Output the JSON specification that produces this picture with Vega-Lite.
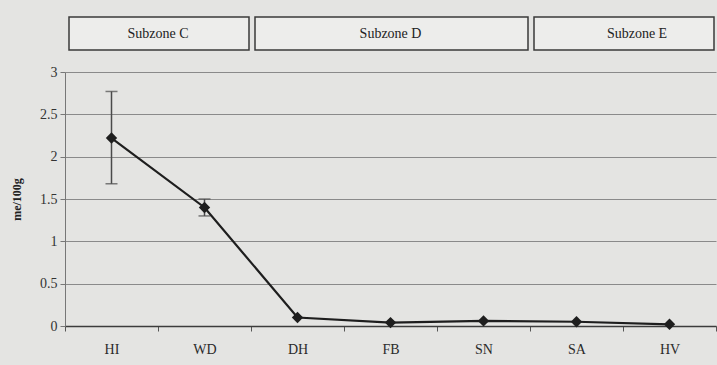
{
  "$schema": "https://vega.github.io/schema/vega-lite/v6.json",
  "background": "#e4e4e2",
  "padding": {"left": 10, "top": 16, "right": 0, "bottom": 14},
  "config": {
    "view": {"stroke": null},
    "font": "Liberation Serif, serif",
    "text": {"font": "Liberation Serif, serif"},
    "axis": {"labelFont": "Liberation Serif, serif", "titleFont": "Liberation Serif, serif"}
  },
  "datasets": {
    "sites": [
      {"site": "HI", "value": 2.22, "lo": 1.68, "hi": 2.77},
      {"site": "WD", "value": 1.40, "lo": 1.30, "hi": 1.50},
      {"site": "DH", "value": 0.10, "lo": null, "hi": null},
      {"site": "FB", "value": 0.04, "lo": null, "hi": null},
      {"site": "SN", "value": 0.06, "lo": null, "hi": null},
      {"site": "SA", "value": 0.05, "lo": null, "hi": null},
      {"site": "HV", "value": 0.02, "lo": null, "hi": null}
    ],
    "zones": [
      {"zone": "Subzone C", "first": "HI", "last": "WD"},
      {"zone": "Subzone D", "first": "DH", "last": "SN"},
      {"zone": "Subzone E", "first": "SA", "last": "HV"}
    ]
  },
  "vconcat": [
    {
      "width": 651,
      "height": 33,
      "data": {"name": "zones"},
      "layer": [
        {
          "mark": {"type": "rect", "fill": "#ededeb", "stroke": "#3a3a3a", "strokeWidth": 1.5, "xOffset": 4, "x2Offset": -2},
          "encoding": {
            "x": {"field": "first", "type": "nominal", "bandPosition": 0,
                  "scale": {"type": "band", "domain": ["HI", "WD", "DH", "FB", "SN", "SA", "HV"], "paddingInner": 0, "paddingOuter": 0},
                  "axis": null},
            "x2": {"field": "last", "bandPosition": 1}
          }
        },
        {
          "transform": [{"filter": "datum.zone === 'Subzone C'"}],
          "mark": {"type": "text", "font": "Liberation Serif, serif", "fontSize": 14, "color": "#222", "baseline": "middle"},
          "encoding": {
            "x": {"field": "last", "type": "nominal", "bandPosition": 0,
                  "scale": {"type": "band", "domain": ["HI", "WD", "DH", "FB", "SN", "SA", "HV"], "paddingInner": 0, "paddingOuter": 0},
                  "axis": null},
            "text": {"field": "zone"}
          }
        },
        {
          "transform": [{"filter": "datum.zone === 'Subzone D'"}],
          "mark": {"type": "text", "font": "Liberation Serif, serif", "fontSize": 14, "color": "#222", "baseline": "middle"},
          "encoding": {
            "x": {"datum": "FB", "type": "nominal", "bandPosition": 0.5,
                  "scale": {"type": "band", "domain": ["HI", "WD", "DH", "FB", "SN", "SA", "HV"], "paddingInner": 0, "paddingOuter": 0},
                  "axis": null},
            "text": {"field": "zone"}
          }
        },
        {
          "transform": [{"filter": "datum.zone === 'Subzone E'"}],
          "mark": {"type": "text", "font": "Liberation Serif, serif", "fontSize": 14, "color": "#222", "baseline": "middle", "dx": 14},
          "encoding": {
            "x": {"field": "last", "type": "nominal", "bandPosition": 0,
                  "scale": {"type": "band", "domain": ["HI", "WD", "DH", "FB", "SN", "SA", "HV"], "paddingInner": 0, "paddingOuter": 0},
                  "axis": null},
            "text": {"field": "zone"}
          }
        }
      ]
    },
    {
      "width": 651,
      "height": 254,
      "data": {"name": "sites"},
      "encoding": {
        "x": {
          "field": "site", "type": "nominal", "bandPosition": 0.5,
          "scale": {"type": "band", "domain": ["HI", "WD", "DH", "FB", "SN", "SA", "HV"], "paddingInner": 0, "paddingOuter": 0},
          "axis": {
            "title": null, "labelAngle": 0, "tickBand": "extent",
            "domainColor": "#3c3c3c", "domainWidth": 1.5,
            "tickColor": "#555", "tickSize": 5,
            "labelFont": "Liberation Serif, serif",
            "labelFontSize": 14, "labelColor": "#2a2a2a", "labelPadding": 11
          }
        }
      },
      "layer": [
        {
          "mark": {"type": "rule", "color": "#4a4a4a", "strokeWidth": 1.5},
          "encoding": {
            "y": {"field": "lo", "type": "quantitative"},
            "y2": {"field": "hi"}
          }
        },
        {
          "mark": {"type": "tick", "color": "#4a4a4a", "size": 12, "thickness": 1.5},
          "encoding": {"y": {"field": "lo", "type": "quantitative"}}
        },
        {
          "mark": {"type": "tick", "color": "#4a4a4a", "size": 12, "thickness": 1.5},
          "encoding": {"y": {"field": "hi", "type": "quantitative"}}
        },
        {
          "mark": {"type": "line", "color": "#1e1e1e", "strokeWidth": 2.2,
                   "point": {"shape": "diamond", "size": 130, "filled": true, "color": "#1e1e1e"}},
          "encoding": {
            "y": {
              "field": "value", "type": "quantitative",
              "scale": {"domain": [0, 3], "nice": false},
              "axis": {
                "title": "me/100g", "titleFontSize": 12, "titleFontWeight": "bold", "titleColor": "#222",
                "titlePadding": 16,
                "values": [0, 0.5, 1, 1.5, 2, 2.5, 3], "format": "~g",
                "grid": true, "gridColor": "#8a8a8a", "gridWidth": 1,
                "domainColor": "#777", "domainWidth": 1,
                "tickColor": "#777", "tickSize": 5,
                "labelFont": "Liberation Serif, serif",
                "labelFontSize": 14, "labelColor": "#333", "labelPadding": 3
              }
            }
          }
        }
      ]
    }
  ],
  "spacing": 14
}
